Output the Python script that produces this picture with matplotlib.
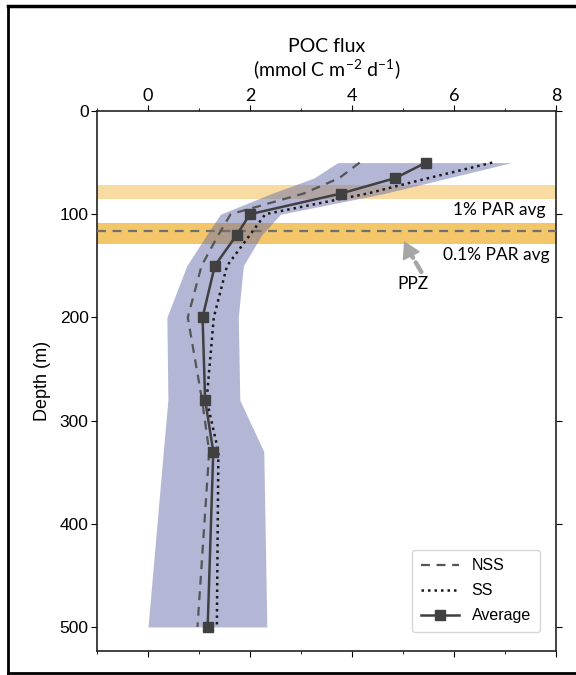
import numpy as np
import matplotlib.pyplot as plt
from matplotlib.lines import Line2D
from matplotlib.ticker import MultipleLocator

plt.rcParams["mathtext.fontset"] = "custom"
plt.rcParams["mathtext.rm"] = "Lato"

# depth levels (m)
depth = [50, 65, 80, 100, 120, 150, 200, 280, 330, 500]

# POC flux (mmol C m-2 d-1)
avg = [5.45, 4.85, 3.78, 2.0, 1.74, 1.31, 1.07, 1.12, 1.28, 1.17]
nss = [4.15, 3.75, 3.05, 1.62, 1.38, 1.05, 0.78, 1.06, 1.2, 0.97]
ss = [6.75, 5.5, 4.3, 2.3, 2.0, 1.55, 1.29, 1.15, 1.38, 1.35]
band_lo = [3.72, 3.25, 2.42, 1.42, 1.15, 0.76, 0.37, 0.39, 0.3, 0.0]
band_hi = [7.13, 5.88, 4.63, 2.6, 2.23, 1.87, 1.77, 1.8, 2.27, 2.33]

par1 = (72, 85)      # 1% PAR avg band
par01 = (109, 129)   # 0.1% PAR avg band
ppz = 116.6

fig = plt.figure(figsize=(5.76, 6.75), dpi=100)
ax = fig.add_axes([97 / 576, 1 - 650.7 / 675, (556 - 97) / 576, (650.7 - 111) / 675])

ax.axhspan(par1[0], par1[1], color="#f0b030", alpha=0.45, lw=0, zorder=1)
ax.axhspan(par01[0], par01[1], color="#f0b030", alpha=0.72, lw=0, zorder=1)
ax.fill_betweenx(depth, band_lo, band_hi, color="#6468aa", alpha=0.48, lw=0, zorder=2)
ax.axhline(ppz, color="#707070", ls=(0, (4, 3)), lw=1.6, zorder=3)

ax.plot(nss, depth, color="#555555", ls=(0, (4, 3)), lw=1.6, zorder=4)
ax.plot(ss, depth, color="#1a1a1a", ls=(0, (1, 1.6)), lw=1.8, zorder=4)
ax.plot(avg, depth, color="#404040", lw=1.8, marker="s", ms=7.5, zorder=5)

ax.set_xlim(-1, 8)
ax.set_ylim(523, 0)
ax.xaxis.set_major_locator(MultipleLocator(2))
ax.xaxis.set_minor_locator(MultipleLocator(1))
ax.yaxis.set_major_locator(MultipleLocator(100))
ax.tick_params(axis="x", which="both", top=True, bottom=True, labeltop=True,
               labelbottom=False, direction="out")
ax.tick_params(axis="x", which="major", length=4, labelsize=13, pad=1)
ax.tick_params(axis="x", which="minor", length=2.5)
ax.tick_params(axis="y", which="both", left=True, right=True, direction="out",
               length=4, labelsize=12.5, pad=2)
for lab in ax.get_xticklabels():
    lab.set_family("Lato")
for lab in ax.get_yticklabels():
    lab.set_family("Liberation Sans")
for s in ax.spines.values():
    s.set_color("#222222")
    s.set_linewidth(1.2)

ax.xaxis.set_label_position("top")
ax.set_xlabel("POC flux\n(mmol C m$^{-2}$ d$^{-1}$)", family="Lato", fontsize=14,
              labelpad=8, linespacing=1.1)
ax.set_ylabel("Depth (m)", family="Liberation Sans", fontsize=13, labelpad=6)

ax.text(7.8, 96, "1% PAR avg", ha="right", va="center", family="Lato", fontsize=12.5)
ax.text(7.88, 139.5, "0.1% PAR avg", ha="right", va="center", family="Lato", fontsize=12.5)
ax.text(5.2, 168, "PPZ", ha="center", va="center", family="Lato", fontsize=12.5)
# PPZ arrow: dashed shaft plus solid head
ax.annotate("", xy=(5.11, 135), xytext=(5.36, 156),
            arrowprops=dict(arrowstyle="-", color="#a6a6a6", lw=3.2,
                            ls=(0, (2.5, 1.2)), shrinkA=0, shrinkB=0))
ax.annotate("", xy=(5.02, 126), xytext=(5.13, 137),
            arrowprops=dict(arrowstyle="-|>,head_length=0.6,head_width=0.35",
                            color="#a6a6a6", lw=1, mutation_scale=18,
                            shrinkA=0, shrinkB=0))

handles = [
    Line2D([], [], color="#555555", ls=(0, (4, 3)), lw=1.6),
    Line2D([], [], color="#1a1a1a", ls=(0, (1, 1.6)), lw=1.8),
    Line2D([], [], color="#404040", lw=1.8, marker="s", ms=7.5),
]
ax.legend(handles, ["NSS", "SS", "Average"], loc="lower right",
          prop={"family": "Liberation Sans", "size": 11.5}, frameon=True,
          edgecolor="#cccccc", fancybox=True, borderpad=0.55, labelspacing=0.62,
          handlelength=2.4, bbox_to_anchor=(0.982, 0.02))

# outer frame
W, H = 576, 675
fig.add_artist(Line2D([8 / W, 8 / W], [1 - 6 / H, 1 - 673 / H], color="black", lw=2))
fig.add_artist(Line2D([8 / W, 1], [1 - 6 / H, 1 - 6 / H], color="black", lw=2.5))
fig.add_artist(Line2D([8 / W, 1], [1 - 673 / H, 1 - 673 / H], color="black", lw=2))

fig.savefig("out.png", dpi=100)
